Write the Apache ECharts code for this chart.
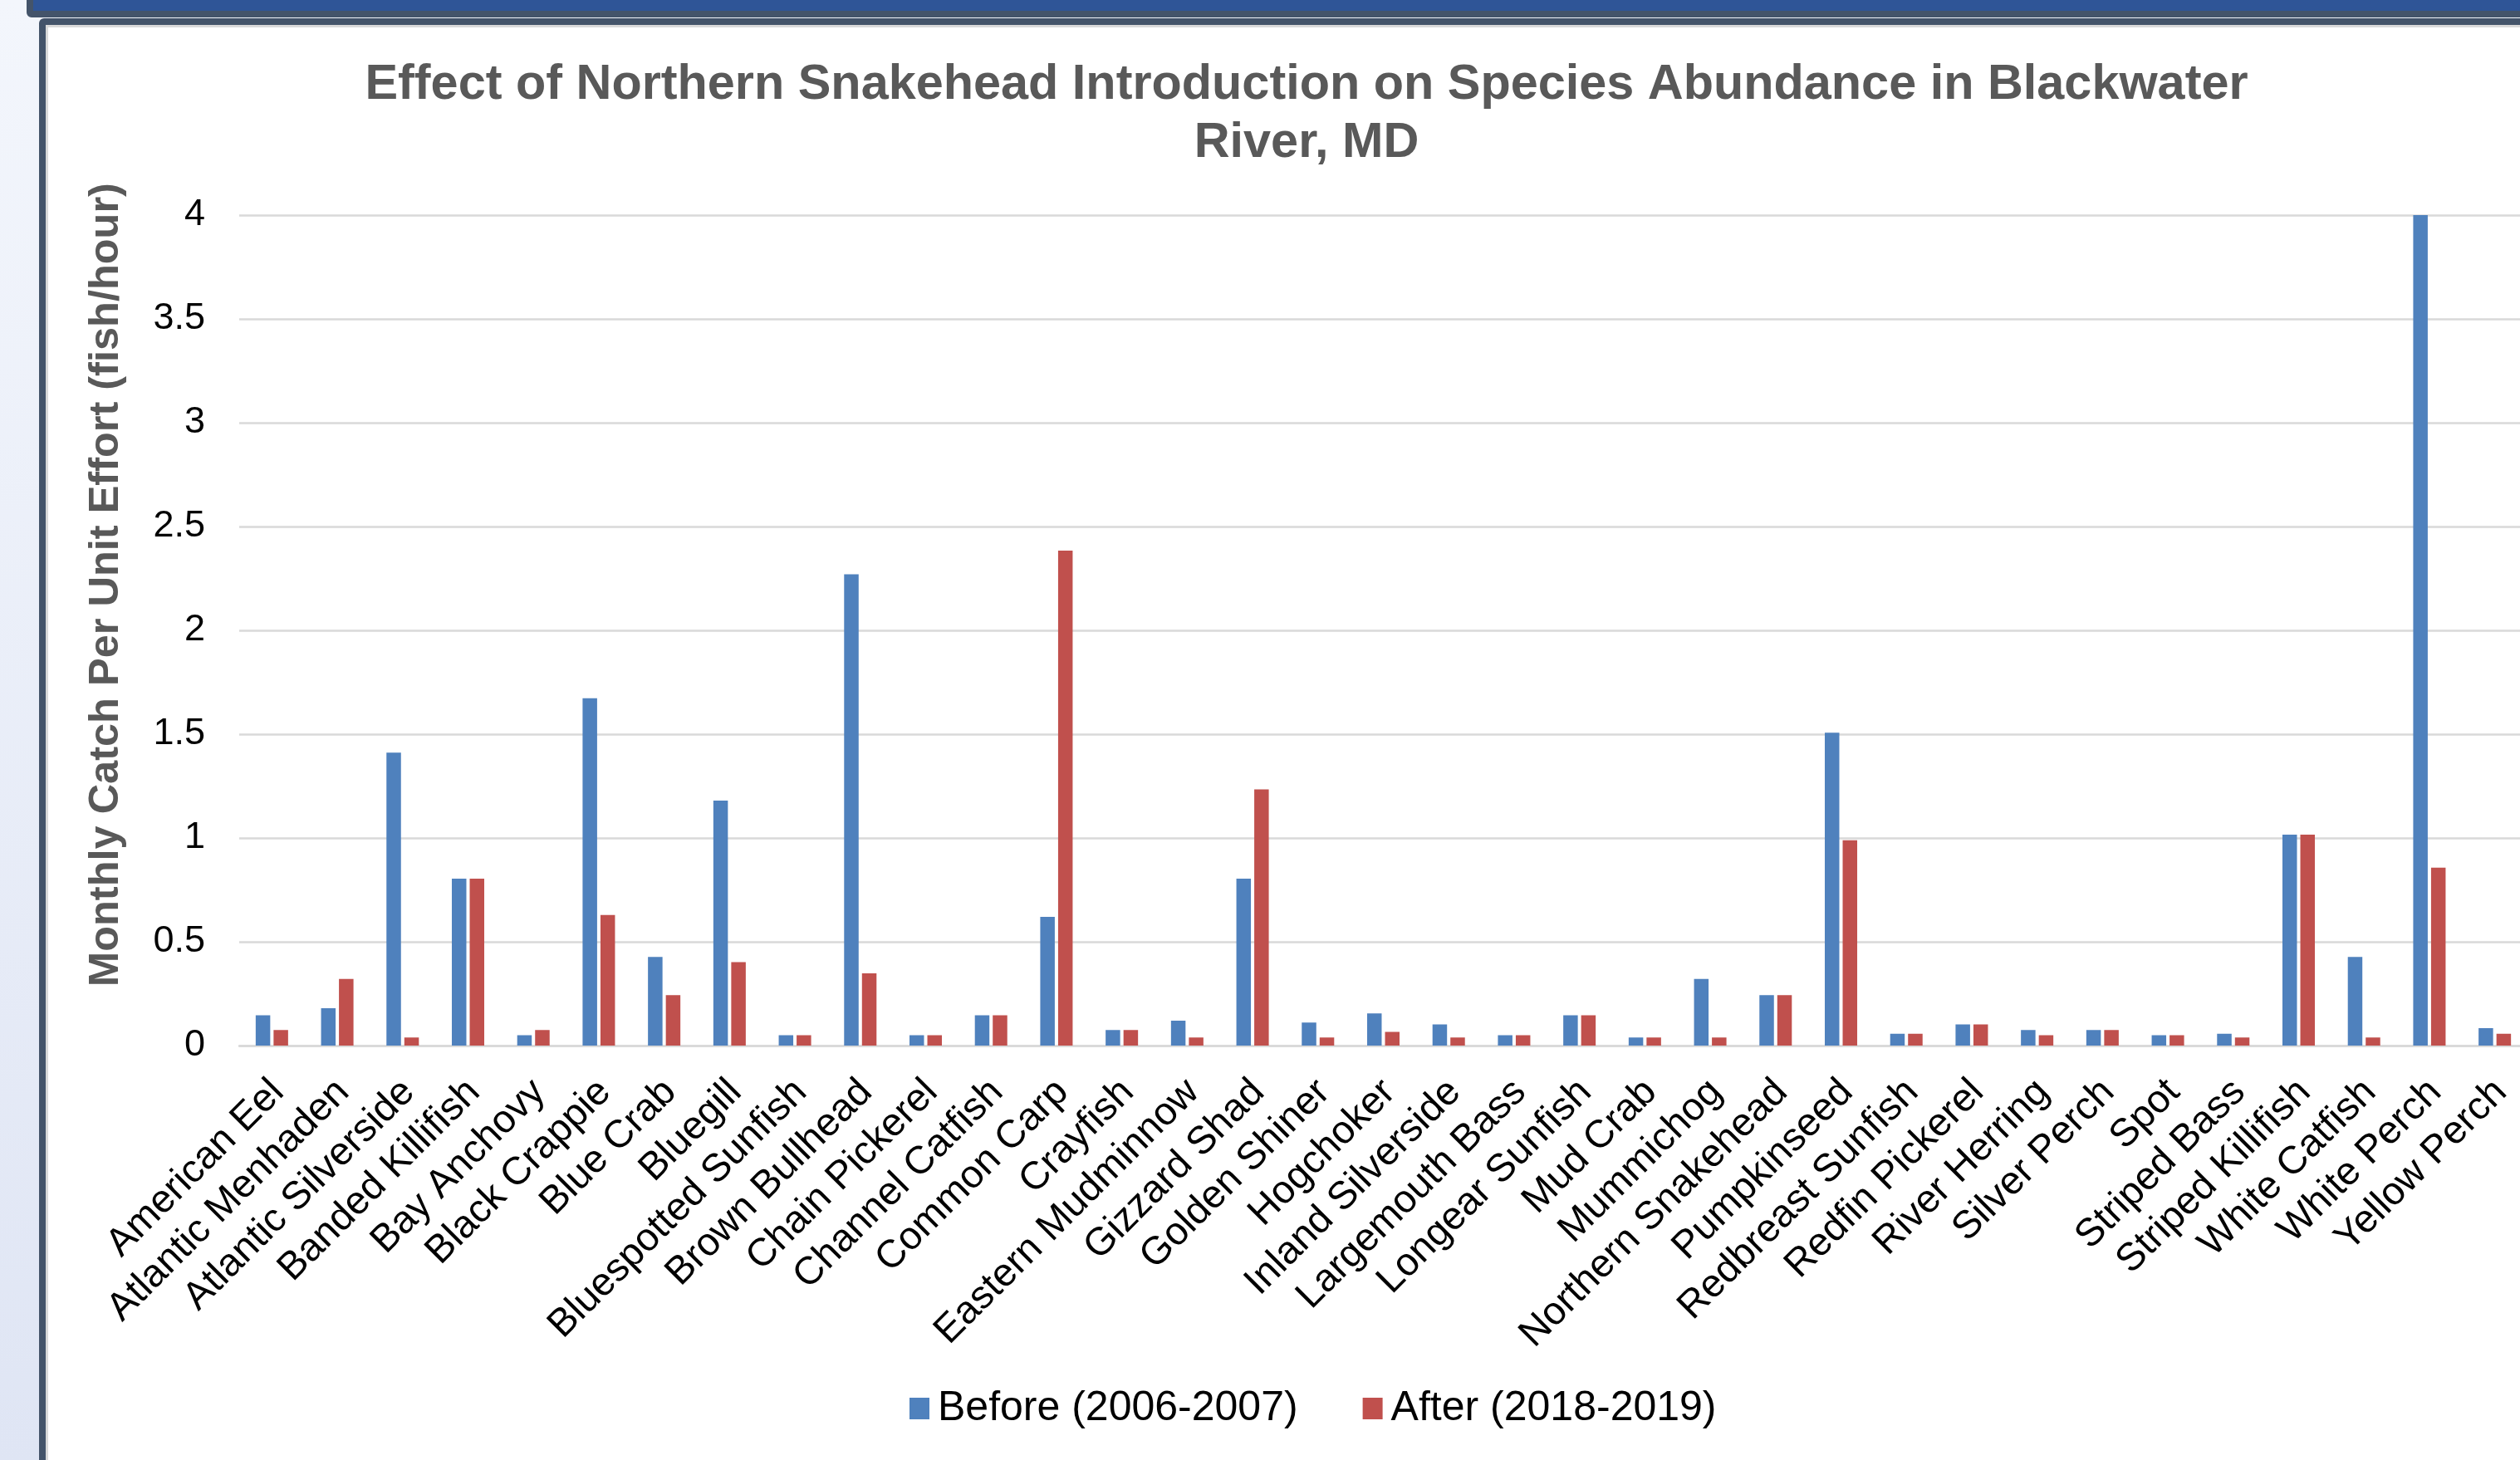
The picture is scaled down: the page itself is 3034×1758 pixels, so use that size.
<!DOCTYPE html>
<html>
<head>
<meta charset="utf-8">
<script src="https://cdn.jsdelivr.net/npm/echarts@6/dist/echarts.min.js"></script>
<style>
  html, body { margin: 0; padding: 0; width: 3034px; height: 1758px; overflow: hidden; }
  body { position: relative; background: linear-gradient(#f3f6fc, #dfe5f4); }
  #topbox { position: absolute; left: 32px; top: -30px; width: 3100px; height: 35px;
            border: 8px solid #44546a; border-radius: 6px; background: #2f5597; }
  #frame { position: absolute; left: 47px; top: 22px; width: 3100px; height: 1900px;
           border: 8px solid #44546a; border-radius: 6px; background: #ffffff;
           box-shadow: inset 3px 3px 0 #d9d9d9; }
  #chart { position: absolute; left: 0; top: 0; width: 3043px; height: 1758px; }
</style>
</head>
<body>
<div id="topbox"></div>
<div id="frame"></div>
<div id="chart"></div>
<script>
const categories = ["American Eel","Atlantic Menhaden","Atlantic Silverside","Banded Killifish","Bay Anchovy","Black Crappie","Blue Crab","Bluegill","Bluespotted Sunfish","Brown Bullhead","Chain Pickerel","Channel Catfish","Common Carp","Crayfish","Eastern Mudminnow","Gizzard Shad","Golden Shiner","Hogchoker","Inland Silverside","Largemouth Bass","Longear Sunfish","Mud Crab","Mummichog","Northern Snakehead","Pumpkinseed","Redbreast Sunfish","Redfin Pickerel","River Herring","Silver Perch","Spot","Striped Bass","Striped Killifish","White Catfish","White Perch","Yellow Perch"];
const beforeVals = [0.146,0.18,1.411,0.804,0.05,1.673,0.427,1.18,0.05,2.27,0.05,0.146,0.62,0.075,0.12,0.804,0.111,0.155,0.102,0.05,0.146,0.039,0.321,0.243,1.507,0.057,0.102,0.075,0.075,0.05,0.057,1.016,0.427,4.0,0.084];
const afterVals = [0.075,0.321,0.039,0.804,0.075,0.629,0.243,0.402,0.05,0.348,0.05,0.146,2.384,0.075,0.039,1.234,0.039,0.066,0.039,0.05,0.146,0.039,0.039,0.243,0.989,0.057,0.102,0.05,0.075,0.05,0.039,1.016,0.039,0.857,0.057];
const seriesNames = ["Before (2006-2007)", "After (2018-2019)"];
const titleLines = ["Effect of Northern Snakehead Introduction on Species Abundance in Blackwater", "River, MD"];
const yAxisTitle = "Monthly Catch Per Unit Effort (fish/hour)";

const FONT = "'Liberation Sans', Arial, sans-serif";
const chart = echarts.init(document.getElementById('chart'), null, { renderer: 'canvas' });
chart.setOption({
  animation: false,
  textStyle: { fontFamily: FONT },
  grid: { left: 288, right: 0, top: 259, bottom: 499, containLabel: false },
  legend: {
    left: 1090, top: 1666,
    itemWidth: 24, itemHeight: 26, itemGap: 78,
    icon: 'rect',
    textStyle: { fontSize: 50, color: '#000000', fontFamily: FONT, padding: [0, 0, 0, 5] },
    data: seriesNames
  },
  xAxis: {
    type: 'category',
    data: categories,
    axisLine: { show: true, lineStyle: { color: '#d9d9d9', width: 2.5 } },
    axisTick: { show: false },
    axisLabel: { interval: 0, rotate: 45, fontSize: 47, color: '#000000', margin: 56,
                 padding: [0, -10, 0, 0], fontFamily: FONT }
  },
  yAxis: {
    type: 'value', min: 0, max: 4, interval: 0.5,
    axisLine: { show: false }, axisTick: { show: false },
    axisLabel: { fontSize: 45, color: '#000000', margin: 41, fontFamily: FONT },
    splitLine: { lineStyle: { color: '#d9d9d9', width: 2.5 } }
  },
  series: [
    { name: seriesNames[0], type: 'bar', data: beforeVals, barWidth: 17.5, barGap: '23%',
      itemStyle: { color: '#4f81bd' } },
    { name: seriesNames[1], type: 'bar', data: afterVals, barWidth: 17.5, barGap: '23%',
      itemStyle: { color: '#c0504d' } }
  ],
  graphic: [
    { type: 'text', x: 1573, y: 103,
      style: { text: titleLines[0], textAlign: 'center', textVerticalAlign: 'middle',
               font: "bold 59.4px " + FONT, fill: '#595959' } },
    { type: 'text', x: 1573, y: 173,
      style: { text: titleLines[1], textAlign: 'center', textVerticalAlign: 'middle',
               font: "bold 59.4px " + FONT, fill: '#595959' } },
    { type: 'text', x: 128, y: 704, rotation: Math.PI / 2,
      style: { text: yAxisTitle, textAlign: 'center', textVerticalAlign: 'middle',
               font: "bold 50.5px " + FONT, fill: '#595959' } }
  ]
});
</script>
</body>
</html>
